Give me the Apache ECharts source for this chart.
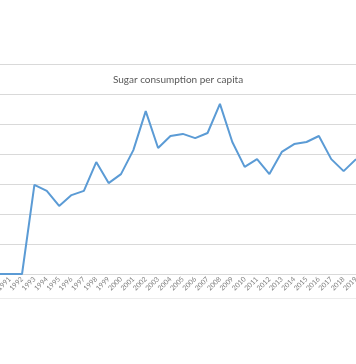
<!DOCTYPE html>
<html><head><meta charset="utf-8">
<script src="https://cdn.jsdelivr.net/npm/echarts@6/dist/echarts.min.js"></script>
<style>html,body{margin:0;padding:0;background:#fff}#c{width:356px;height:364px}</style>
</head><body><div id="c"></div>
<script>
const titleText = "Sugar consumption per capita";
const years = ["1990","1991","1992","1993","1994","1995","1996","1997","1998","1999","2000","2001","2002","2003","2004","2005","2006","2007","2008","2009","2010","2011","2012","2013","2014","2015","2016","2017","2018","2019"];
const consumption = [0,0,0,29.7,27.7,22.7,26.3,27.7,37.3,30.3,33.3,41.3,54.3,42,46,46.7,45.3,47,56.7,44,35.7,38.3,33.3,40.7,43.3,44,46,38.3,34.3,38.3];
const yMax = 70, yStep = 10;

const chart = echarts.init(document.getElementById('c'));
chart.setOption({
  animation: false,
  title: {text: titleText, left: 'center', top: 70,
    textStyle: {color: '#595959', fontSize: 10, fontWeight: 'normal', fontFamily: 'Lato'}},
  grid: {left: -2.7, right: 0, top: 64, bottom: 90, containLabel: false, outerBoundsMode: 'none'},
  xAxis: {type: 'category', data: years, boundaryGap: false,
    axisLine: {lineStyle: {color: '#d9d9d9', width: 1}},
    axisTick: {show: false},
    axisLabel: {rotate: 45, fontSize: 7, color: '#7f7f7f', fontFamily: 'Lato', margin: 4, interval: 0}},
  yAxis: {type: 'value', min: 0, max: yMax, interval: yStep,
    axisLabel: {show: false}, axisLine: {show: false}, axisTick: {show: false},
    splitLine: {lineStyle: {color: '#d9d9d9', width: 1}}},
  graphic: [{type: 'rect', shape: {x: 0, y: 298, width: 356, height: 1}, style: {fill: '#ececec'}}],
  series: [{type: 'line', data: consumption, showSymbol: false,
    lineStyle: {color: '#5b9bd5', width: 2}, itemStyle: {color: '#5b9bd5'}}]
});
</script></body></html>
